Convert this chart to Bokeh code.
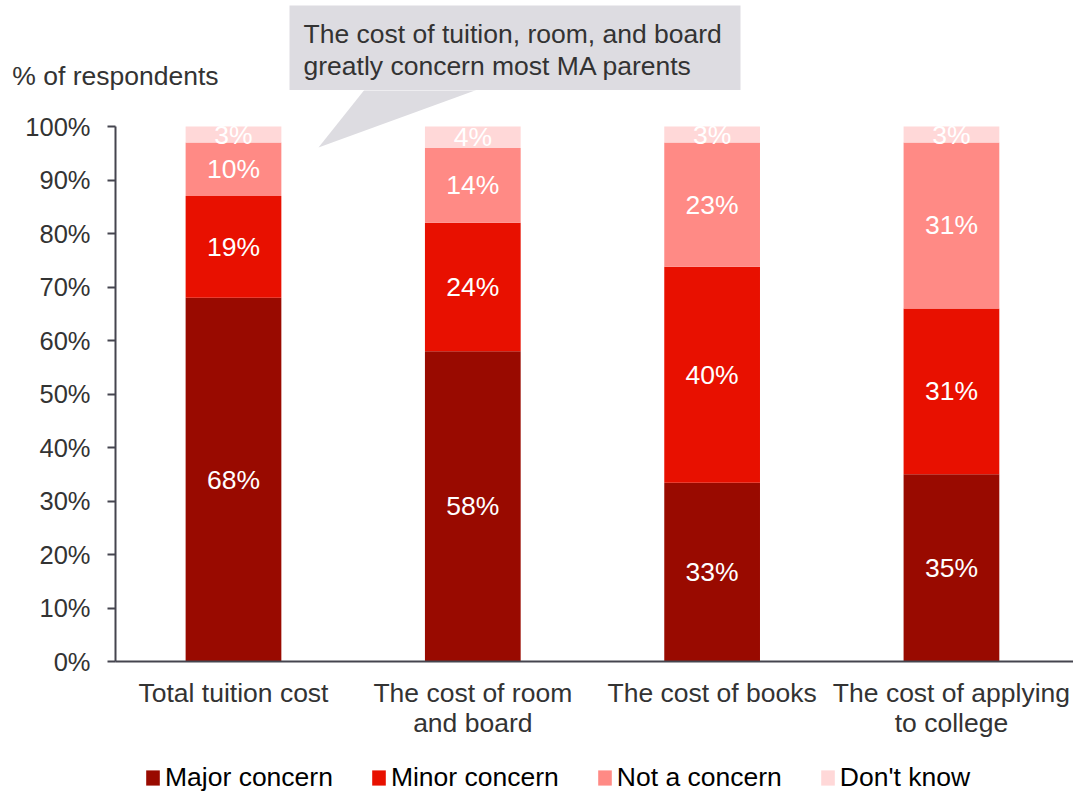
from bokeh.plotting import figure
from bokeh.layouts import column
from bokeh.models import (ColumnDataSource, Range1d, FixedTicker, Label, PolyAnnotation,
                          Legend, LegendItem, LinearAxis)
from bokeh.core.properties import value
from bokeh.embed import file_html
from bokeh.resources import INLINE

# ---------------- data ----------------
categories = ["Total tuition cost", "The cost of room\nand board",
              "The cost of books", "The cost of applying\nto college"]
series = ["Major concern", "Minor concern", "Not a concern", "Don't know"]
major = [68, 58, 33.4, 35]
minor = [19, 24, 40.4, 31]
not_concern = [10, 14, 23.2, 31]
dont_know = [3, 4, 3.0, 3]
y_ticks = [0, 10, 20, 30, 40, 50, 60, 70, 80, 90, 100]
callout_lines = ["The cost of tuition, room, and board",
                 "greatly concern most MA parents"]
y_title = "% of respondents"

colors = ["#990A00", "#E81000", "#FF8A85", "#FFD8D8"]
CALLOUT = "#DDDCE1"
FONT = "Liberation Sans"
TXT = "#333333"
FS = "26.5px"
W = 1073
LEFT = 115
TOP_H = 90
MAIN_H = 651
BOT_H = 791 - TOP_H - MAIN_H


def strip(h, y_range):
    f = figure(width=W, height=h, x_range=Range1d(LEFT, W), y_range=y_range,
               output_backend="svg", toolbar_location=None,
               x_axis_location=None, y_axis_location=None,
               min_border_left=0, min_border_right=0, min_border_top=0, min_border_bottom=0)
    f.outline_line_color = None
    f.grid.visible = False
    f.background_fill_color = "white"
    f.border_fill_color = "white"
    return f


# ---------------- header strip: call-out box and axis title ----------------
top = strip(TOP_H, Range1d(TOP_H, 0))
top.add_layout(PolyAnnotation(xs=[289, 740, 740, 289], ys=[5, 5, TOP_H + 1, TOP_H + 1],
                              fill_color=CALLOUT, fill_alpha=1.0, line_color=None))
for j, line in enumerate(callout_lines):
    top.add_layout(Label(x=303, y=33 + 32 * j, text=line, text_align="left",
                         text_baseline="middle", text_font=FONT, text_font_size=FS,
                         text_color=TXT))
# axis title, carried by a bare left axis so it may extend left of the plot area
title_axis = LinearAxis(ticker=FixedTicker(ticks=[75]), major_label_overrides={75: y_title},
                        axis_line_color=None, major_tick_line_color=None,
                        minor_tick_line_color=None, major_tick_out=0, major_tick_in=0,
                        major_label_standoff=-103, major_label_text_font=FONT,
                        major_label_text_font_size=FS, major_label_text_color=TXT)
top.add_layout(title_axis, "left")

# ---------------- main chart ----------------
X0, X1 = -0.493, 3.510
PY = 5.35                      # pixels per percentage point
Y_TOP = (661 - TOP_H) / PY     # frame reaches up to the header strip
p = figure(width=W, height=MAIN_H, x_range=Range1d(X0, X1), y_range=Range1d(0, Y_TOP),
           output_backend="svg", toolbar_location=None,
           min_border_left=LEFT, min_border_right=0, min_border_top=0, min_border_bottom=80)
p.background_fill_color = "white"
p.border_fill_color = "white"
p.outline_line_color = None
p.xgrid.visible = False
p.ygrid.visible = False

PPX = 958 / (X1 - X0)
def dx(rx):
    return X0 + (rx - LEFT) / PPX
def dy(ry):
    return (661 - ry) / PY

keys = ["major", "minor", "notc", "dk"]
src = ColumnDataSource(dict(x=list(range(len(categories))), major=major, minor=minor,
                            notc=not_concern, dk=dont_know))
p.vbar_stack(keys, x="x", width=0.4, color=colors, line_color=None, source=src)

# data labels
lx, ly, lt = [], [], []
for i in range(len(categories)):
    base = 0
    for arr in (major, minor, not_concern, dont_know):
        v = arr[i]
        lx.append(i)
        ly.append(base + v / 2)
        lt.append(f"{round(v)}%")
        base += v
p.text(x=lx, y=ly, text=lt, text_align="center", text_baseline="middle",
       text_color="white", text_font=value(FONT), text_font_size=value(FS))

# axes
AX = "#45454f"
p.xaxis.ticker = FixedTicker(ticks=list(range(len(categories))))
p.xaxis.major_label_overrides = {i: c for i, c in enumerate(categories)}
p.xaxis.major_tick_out = 0
p.xaxis.major_tick_in = 0
p.xaxis.minor_tick_line_color = None
p.xaxis.axis_line_color = AX
p.xaxis.axis_line_width = 2
p.xaxis.major_label_text_font = FONT
p.xaxis.major_label_text_font_size = FS
p.xaxis.major_label_text_color = TXT
p.xaxis.major_label_text_line_height = 1.0
p.xaxis.major_label_standoff = 16

p.yaxis.ticker = FixedTicker(ticks=y_ticks)
p.yaxis.bounds = (0, 100)
p.yaxis.major_label_overrides = {t: f"{t}%" for t in y_ticks}
p.yaxis.major_tick_out = 8
p.yaxis.major_tick_in = 0
p.yaxis.minor_tick_line_color = None
p.yaxis.axis_line_color = AX
p.yaxis.axis_line_width = 2
p.yaxis.major_tick_line_color = AX
p.yaxis.major_tick_line_width = 2
p.yaxis.major_label_text_font = FONT
p.yaxis.major_label_text_font_size = "25.5px"
p.yaxis.major_label_text_color = TXT
p.yaxis.major_label_standoff = 17

# call-out pointer (continues the header box into the plot area)
p.add_layout(PolyAnnotation(
    xs=[dx(v) for v in [365, 480, 318]],
    ys=[dy(v) for v in [88, 88, 147]],
    fill_color=CALLOUT, fill_alpha=1.0, line_color=None))

# ---------------- legend strip ----------------
bot = strip(BOT_H, Range1d(0, BOT_H))
# zero-height placeholder glyphs: they only supply the legend swatches
swatch_src = ColumnDataSource(dict(x=[LEFT], top=[0], bottom=[0]))
swatches = [bot.vbar(x="x", top="top", bottom="bottom", width=0, fill_color=c,
                     line_color=None, source=swatch_src) for c in colors]
legend = Legend(items=[LegendItem(label=s, renderers=[r]) for s, r in zip(series, swatches)],
                orientation="horizontal", location=(29, -2),
                glyph_width=17, glyph_height=19, label_standoff=4, spacing=37,
                padding=0, margin=0, border_line_color=None, background_fill_alpha=0,
                label_text_font=FONT, label_text_font_size=FS, label_text_color="black")
bot.add_layout(legend, "center")

layout = column(top, p, bot, spacing=0)
open("out.html", "w").write(file_html(layout, INLINE))
